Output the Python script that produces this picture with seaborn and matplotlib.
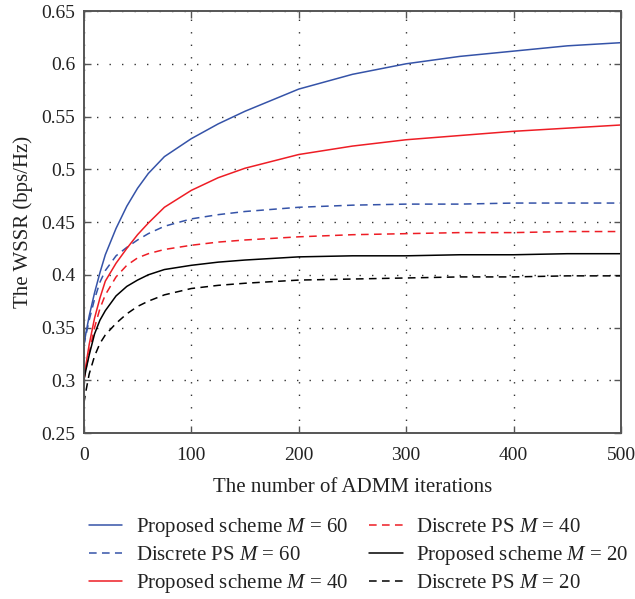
import numpy as np
import pandas as pd
import matplotlib
matplotlib.use("Agg")
import matplotlib.pyplot as plt
import seaborn as sns

iters = [0, 2, 5, 10, 15, 20, 30, 40, 50, 60, 75, 100, 125, 150, 200, 250, 300, 350, 400, 450, 500]

prop_60 = [0.333, 0.345, 0.361, 0.383, 0.402, 0.419, 0.444, 0.465, 0.482, 0.496, 0.512, 0.529, 0.543,
           0.555, 0.576, 0.590, 0.600, 0.607, 0.612, 0.617, 0.620]
disc_60 = [0.333, 0.343, 0.357, 0.377, 0.393, 0.404, 0.418, 0.426, 0.433, 0.439, 0.446, 0.453, 0.457,
           0.460, 0.464, 0.466, 0.467, 0.467, 0.468, 0.468, 0.468]
prop_40 = [0.300, 0.315, 0.334, 0.359, 0.378, 0.394, 0.411, 0.425, 0.438, 0.449, 0.464, 0.480, 0.492,
           0.501, 0.514, 0.522, 0.528, 0.532, 0.536, 0.539, 0.542]
disc_40 = [0.300, 0.311, 0.326, 0.350, 0.368, 0.381, 0.398, 0.409, 0.416, 0.420, 0.424, 0.428, 0.431,
           0.433, 0.436, 0.438, 0.439, 0.440, 0.440, 0.441, 0.441]
prop_20 = [0.300, 0.310, 0.324, 0.344, 0.357, 0.366, 0.380, 0.389, 0.395, 0.400, 0.405, 0.409, 0.412,
           0.414, 0.417, 0.418, 0.418, 0.419, 0.419, 0.420, 0.420]
disc_20 = [0.278, 0.290, 0.306, 0.323, 0.335, 0.343, 0.354, 0.363, 0.370, 0.375, 0.381, 0.387, 0.390,
           0.392, 0.395, 0.396, 0.397, 0.398, 0.398, 0.399, 0.399]

labels = ["Proposed scheme $M$ = 60", "Discrete PS $M$ = 60",
          "Proposed scheme $M$ = 40", "Discrete PS $M$ = 40",
          "Proposed scheme $M$ = 20", "Discrete PS $M$ = 20"]
series = [prop_60, disc_60, prop_40, disc_40, prop_20, disc_20]
colors = ["#3553a8", "#3553a8", "#ee1d25", "#ee1d25", "#000000", "#000000"]
dashed = [False, True, False, True, False, True]

sns.set_style("ticks")
plt.rcParams["font.family"] = ["Liberation Serif", "DejaVu Serif"]
plt.rcParams["mathtext.fontset"] = "custom"
plt.rcParams["mathtext.rm"] = "Liberation Serif"
plt.rcParams["mathtext.it"] = "Liberation Serif:italic"

fig = plt.figure(figsize=(6.35, 5.99), dpi=100)
ax = fig.add_axes([0.132, 0.277, 0.846, 0.7046])

for lab, ys, c, d in zip(labels, series, colors, dashed):
    df = pd.DataFrame({"iter": iters, "wssr": ys})
    l = sns.lineplot(data=df, x="iter", y="wssr", ax=ax, color=c, lw=1.1, label=lab)
    if d:
        l.lines[-1].set_dashes((5, 3.5))

ax.set_xlim(0, 500)
ax.set_ylim(0.25, 0.65)
ax.set_xticks([0, 100, 200, 300, 400, 500])
ax.set_yticks([0.25, 0.3, 0.35, 0.4, 0.45, 0.5, 0.55, 0.6, 0.65])
ax.set_yticklabels(["0.25", "0.3", "0.35", "0.4", "0.45", "0.5", "0.55", "0.6", "0.65"])
ax.grid(True, color="#333333", linestyle=(0, (1, 8)), lw=1.0)
ax.tick_params(direction="in", length=5, width=1.0, labelsize=14, top=True, right=True,
               colors="#555555", labelcolor="#222222")
ax.tick_params(axis="x", pad=10)
ax.tick_params(axis="y", pad=6)
for s in ax.spines.values():
    s.set_color("#555555")
    s.set_linewidth(1.4)

ax.set_xlabel("The number of ADMM iterations", fontsize=15, color="#222222", labelpad=10)
ax.set_ylabel("The WSSR (bps/Hz)", fontsize=15, color="#222222", labelpad=6)

h, lbl = ax.get_legend_handles_labels()
ax.get_legend().remove()
fig.legend(h, lbl, ncol=2, loc="upper center", bbox_to_anchor=(0.565, 0.17), frameon=False,
           fontsize=15, handlelength=1.6, handletextpad=0.65, columnspacing=1.0,
           labelspacing=0.33, labelcolor="#222222")

fig.savefig("out.png", dpi=100)
